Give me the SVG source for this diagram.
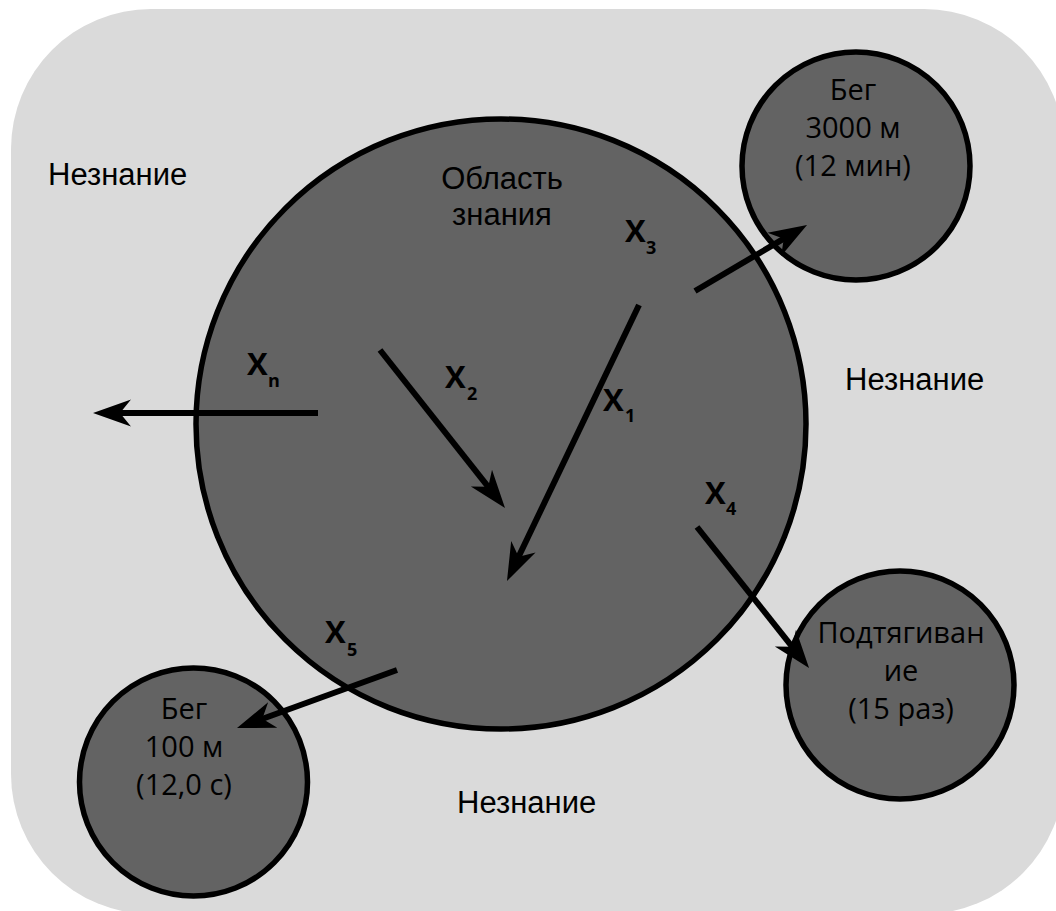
<svg xmlns="http://www.w3.org/2000/svg" width="1056" height="911" viewBox="0 0 1056 911">
<style>
.bg{fill:#dadada}
.node{fill:#636363;stroke:#000;stroke-width:5.5}
.arr{fill:none;stroke:#000;stroke-width:6}
.lbl{font-family:"Liberation Sans",Arial,sans-serif;font-size:31px;fill:#000}
.ctext{font-family:"Open Sans","Liberation Sans",sans-serif;font-size:29px;fill:#000;text-anchor:middle}
.xl{font-family:"Open Sans","Liberation Sans",sans-serif;font-weight:bold;font-size:31px;fill:#000}
.sub{font-size:18px}
</style>
<defs>
<marker id="ah" markerUnits="userSpaceOnUse" markerWidth="60" markerHeight="40" refX="0" refY="0" orient="auto" overflow="visible" viewBox="-30 -20 60 40">
<path d="M20,0 L-18,-13.5 L-7,0 L-18,13.5 Z" fill="#000"/>
</marker>
</defs>
<rect class="bg" x="11" y="9" width="1053" height="905" rx="140" ry="140"/>
<g id="n-unknown-tl"><text class="lbl" x="48" y="185">Незнание</text></g>
<g id="n-unknown-r"><text class="lbl" x="845" y="390">Незнание</text></g>
<g id="n-unknown-b"><text class="lbl" x="457" y="813">Незнание</text></g>
<g id="n-main">
<circle class="node" cx="501" cy="424" r="305"/>
<text class="lbl" x="502" y="189" text-anchor="middle">Область</text>
<text class="lbl" x="502" y="225" text-anchor="middle">знания</text>
</g>
<g id="n-run3000">
<circle class="node" cx="856" cy="166" r="114"/>
<text class="ctext" x="853" y="100">Бег</text>
<text class="ctext" x="853" y="138">3000 м</text>
<text class="ctext" x="853" y="176">(12 мин)</text>
</g>
<g id="n-run100">
<circle class="node" cx="193.5" cy="782" r="114"/>
<text class="ctext" x="184" y="719">Бег</text>
<text class="ctext" x="184" y="757">100 м</text>
<text class="ctext" x="184" y="795">(12,0 с)</text>
</g>
<g id="n-pullup">
<circle class="node" cx="900" cy="685" r="114"/>
<text class="ctext" x="901" y="643">Подтягиван</text>
<text class="ctext" x="901" y="681">ие</text>
<text class="ctext" x="901" y="719">(15 раз)</text>
</g>
<g id="connectors">
<line class="arr" x1="318" y1="413" x2="113" y2="413" marker-end="url(#ah)"/>
<line class="arr" x1="380" y1="350" x2="492.6" y2="492.3" marker-end="url(#ah)"/>
<line class="arr" x1="639" y1="305" x2="515.6" y2="563" marker-end="url(#ah)"/>
<line class="arr" x1="695" y1="291" x2="789.8" y2="235.2" marker-end="url(#ah)"/>
<line class="arr" x1="697" y1="527" x2="796.6" y2="652.3" marker-end="url(#ah)"/>
<line class="arr" x1="397" y1="670" x2="255.8" y2="721.2" marker-end="url(#ah)"/>
</g>
<g id="x-labels">
<text class="xl"><tspan x="247" y="375">X</tspan><tspan class="sub" x="268" y="387">n</tspan></text>
<text class="xl"><tspan x="445" y="388">X</tspan><tspan class="sub" x="467" y="400">2</tspan></text>
<text class="xl"><tspan x="625" y="242">X</tspan><tspan class="sub" x="646" y="254">3</tspan></text>
<text class="xl"><tspan x="603" y="411">X</tspan><tspan class="sub" x="625" y="422">1</tspan></text>
<text class="xl"><tspan x="705" y="504">X</tspan><tspan class="sub" x="726" y="515">4</tspan></text>
<text class="xl"><tspan x="325" y="643">X</tspan><tspan class="sub" x="347" y="656">5</tspan></text>
</g>
</svg>
